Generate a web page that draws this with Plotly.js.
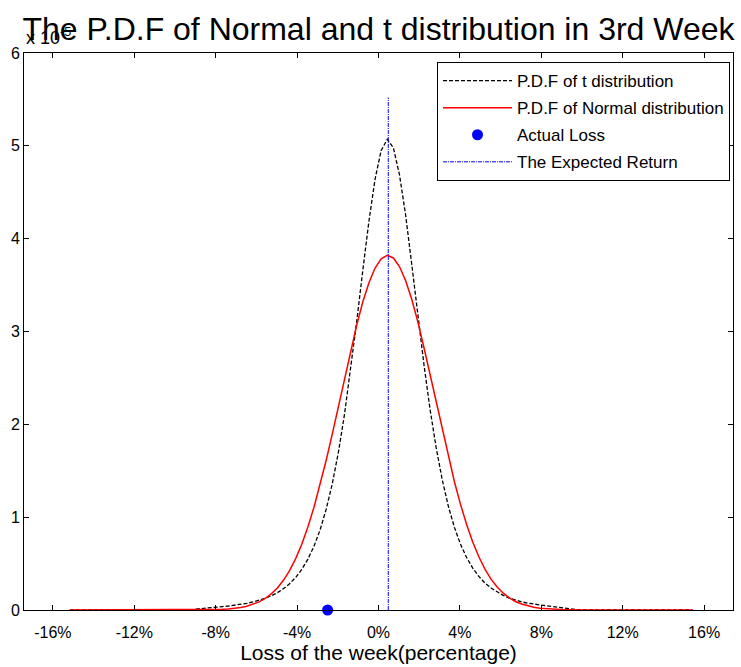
<!DOCTYPE html>
<html>
<head>
<meta charset="utf-8">
<script src="https://cdn.plot.ly/plotly-3.0.1.min.js"></script>
<style>html,body{margin:0;padding:0;background:#fff;}#chart{width:741px;height:667px;}</style>
</head>
<body>
<div id="chart"></div>
<script>
// x positions (loss of the week, %)
var lossPct = [-15.17,
  -9.17,-8.87,-8.57,-8.27,-7.97,-7.67,-7.37,-7.07,-6.77,-6.47,
  -6.17,-5.87,-5.57,-5.27,-4.97,-4.67,-4.37,-4.07,-3.77,-3.47,
  -3.17,-2.87,-2.57,-2.27,-1.97,-1.67,-1.37,-1.07,-0.77,-0.47,
  -0.17,0.13,0.43,0.73,1.03,1.33,1.63,1.93,2.23,2.53,
  2.83,3.13,3.43,3.73,4.03,4.33,4.63,4.93,5.23,5.53,
  5.83,6.13,6.43,6.73,7.03,7.33,7.63,7.93,8.23,8.53,
  8.83,9.13,9.43,9.73,10.03,
  15.43];
// P.D.F of t distribution (x 10^-5)
var tPdf = [0,
  0.002,0.012,0.02,0.026,0.031,0.037,0.043,0.051,0.061,0.072,
  0.087,0.104,0.126,0.153,0.186,0.23,0.283,0.351,0.437,0.548,
  0.687,0.863,1.086,1.361,1.70,2.109,2.587,3.11,3.66,4.19,
  4.64,4.95,5.07,4.98,4.69,4.26,3.73,3.18,2.65,2.166,
  1.754,1.405,1.12,0.89,0.708,0.565,0.451,0.362,0.291,0.236,
  0.193,0.157,0.128,0.107,0.088,0.074,0.062,0.052,0.045,0.038,
  0.032,0.022,0.012,0.004,0.001,
  0];
// P.D.F of Normal distribution (x 10^-5)
var normalPdf = [0,
  0.0006,0.001,0.0017,0.003,0.005,0.0075,0.012,0.018,0.028,0.041,
  0.061,0.087,0.124,0.174,0.237,0.32,0.425,0.554,0.709,0.894,
  1.107,1.348,1.613,1.898,2.196,2.498,2.793,3.07,3.32,3.526,
  3.684,3.783,3.82,3.792,3.70,3.55,3.35,3.106,2.83,2.537,
  2.237,1.937,1.65,1.382,1.138,0.921,0.733,0.573,0.44,0.333,
  0.248,0.181,0.13,0.092,0.064,0.044,0.029,0.019,0.013,0.008,
  0.005,0.003,0.002,0.001,0.0005,
  0];
// Actual loss point
var actualLossX = [-2.5];
var actualLossY = [0];
// Expected return line
var expectedReturnX = [0.48, 0.48];
var expectedReturnY = [0, 5.52];
// ticks
var xTickVals = [-16,-12,-8,-4,0,4,8,12,16];
var xTickText = ["-16%","-12%","-8%","-4%","0%","4%","8%","12%","16%"];
var yTickVals = [0,1,2,3,4,5,6];
var yTickText = ["0","1","2","3","4","5","6"];

var FONT = "Liberation Sans, Arial, Helvetica, sans-serif";

var traces = [
  {x: lossPct, y: tPdf, type: "scatter", mode: "lines", name: "P.D.F of t distribution",
   legendgroup: "a", line: {color: "#000000", width: 1.3, dash: "4px,2px"}},
  {x: lossPct, y: normalPdf, type: "scatter", mode: "lines", name: "P.D.F of Normal distribution",
   legendgroup: "b", line: {color: "#ff0000", width: 1.5}},
  {x: actualLossX, y: actualLossY, type: "scatter", mode: "markers", name: "Actual Loss",
   legendgroup: "c", marker: {color: "#0000ff", size: 11}, cliponaxis: false},
  {x: expectedReturnX, y: expectedReturnY, type: "scatter", mode: "lines", name: "The Expected Return",
   legendgroup: "d", line: {color: "#0000ff", width: 1, dash: "4px,1px,1px,1px"}}
];

var layout = {
  width: 741, height: 667,
  margin: {l: 24, r: 8, t: 53, b: 57},
  paper_bgcolor: "#ffffff", plot_bgcolor: "#ffffff",
  font: {family: FONT, color: "#000000", size: 15},
  title: {text: "The P.D.F of Normal and t distribution in 3rd Week",
          font: {family: FONT, size: 32, color: "#000000"},
          xref: "paper", x: 0.5, xanchor: "center",
          yref: "container", y: 1 - 29/667, yanchor: "middle"},
  showlegend: true,
  legend: {x: (437-24)/709, y: (610.5-62)/557.5, xanchor: "left", yanchor: "top",
           bgcolor: "#ffffff", bordercolor: "#000000", borderwidth: 1,
           font: {family: FONT, size: 17, color: "#000000"},
           traceorder: "grouped", tracegroupgap: 2, itemwidth: 69},
  xaxis: {range: [-17.42, 17.42], tickmode: "array", tickvals: xTickVals, ticktext: xTickText,
          ticks: "inside", ticklen: 5, tickwidth: 1, tickcolor: "#000",
          showline: true, linecolor: "#000", linewidth: 1, mirror: "ticks",
          showgrid: false, zeroline: false, ticklabelstandoff: 8,
          tickfont: {family: FONT, size: 16},
          title: {text: "Loss of the week(percentage)", font: {family: FONT, size: 21}, standoff: 4}},
  yaxis: {range: [0, 6], tickmode: "array", tickvals: yTickVals, ticktext: yTickText,
          ticks: "inside", ticklen: 5, tickwidth: 1, tickcolor: "#000",
          showline: true, linecolor: "#000", linewidth: 1, mirror: "ticks",
          showgrid: false, zeroline: false,
          tickfont: {family: FONT, size: 16}},
  annotations: [
    {text: "x 10<sup>-5</sup>", xref: "paper", yref: "paper", x: 0, y: 1, xanchor: "left", yanchor: "bottom",
     showarrow: false, font: {family: FONT, size: 18, color: "#000"}, xshift: 0, yshift: 3}
  ]
};

Plotly.newPlot("chart", traces, layout, {displayModeBar: false, staticPlot: true});
</script>
</body>
</html>
